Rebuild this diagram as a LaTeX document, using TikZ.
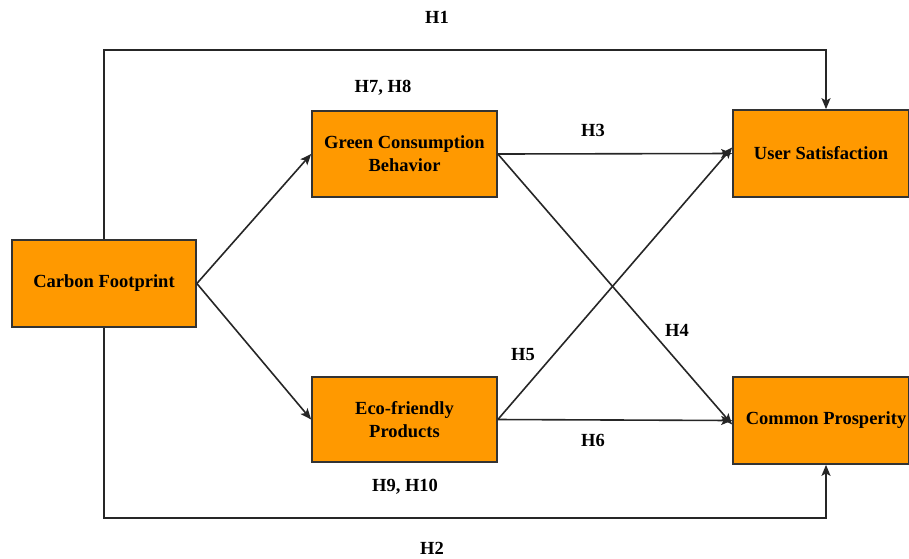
\documentclass[tikz,border=0pt]{standalone}
\usepackage{fontspec}
\setmainfont{Liberation Serif}
\usetikzlibrary{arrows.meta,calc}
\begin{document}
\begin{tikzpicture}[x=1pt,y=-1pt,
  box/.style={draw=black!80,line width=1.7pt,fill=orange1,align=center,inner sep=0pt,
    font=\fontsize{18.5}{23}\selectfont\bfseries},
  conn/.style={draw=black!85,line width=1.6pt,-{Stealth[length=11pt,width=9pt,inset=2.5pt]}},
  lab/.style={font=\fontsize{18.5}{21}\selectfont\bfseries,inner sep=0pt}]
\definecolor{orange1}{HTML}{FF9900}
\useasboundingbox (0,0) rectangle (909,558);
\node[box,minimum width=184pt,minimum height=87pt] (cf) at (104,283.5) {Carbon Footprint};
\node[box,minimum width=185pt,minimum height=86pt] (gcb) at (404.5,154) {Green Consumption\\Behavior};
\node[box,minimum width=185pt,minimum height=85pt] (ep) at (404.5,419.5) {Eco-friendly\\Products};
\node[box,minimum width=176pt,minimum height=87pt] (us) at (821,153.5) {User Satisfaction};
\node[box,minimum width=176pt,minimum height=87pt] (cp) at (821,420.5) {\hspace*{10pt}Common Prosperity};
\coordinate (h1c) at (104,50);
\coordinate (h2c) at (104,518);
\draw[conn] (cf.north) -- (h1c) -| ([xshift=5pt]us.north);
\draw[conn] (cf.south) -- (h2c) -| ([xshift=5pt]cp.south);
\draw[conn] (cf.east) -- (gcb.west);
\draw[conn] (cf.east) -- (ep.west);
\draw[conn] (gcb.east) -- (us.west);
\draw[conn] (gcb.east) -- ([yshift=-4pt]cp.west);
\draw[conn] (ep.east) -- ([yshift=6pt]us.west);
\draw[conn] (ep.east) -- (cp.west);
\node[lab] (l1) at (437,17) {H1};
\node[lab] (l2) at (432,548) {H2};
\node[lab] (l3) at (593,130) {H3};
\node[lab] (l4) at (677,330) {H4};
\node[lab] (l5) at (523,355) {H5};
\node[lab] (l6) at (593,440) {H6};
\node[lab] (l78) at (383,88) {H7, H8};
\node[lab] (l910) at (405,487) {H9, H10};
\end{tikzpicture}
\end{document}
